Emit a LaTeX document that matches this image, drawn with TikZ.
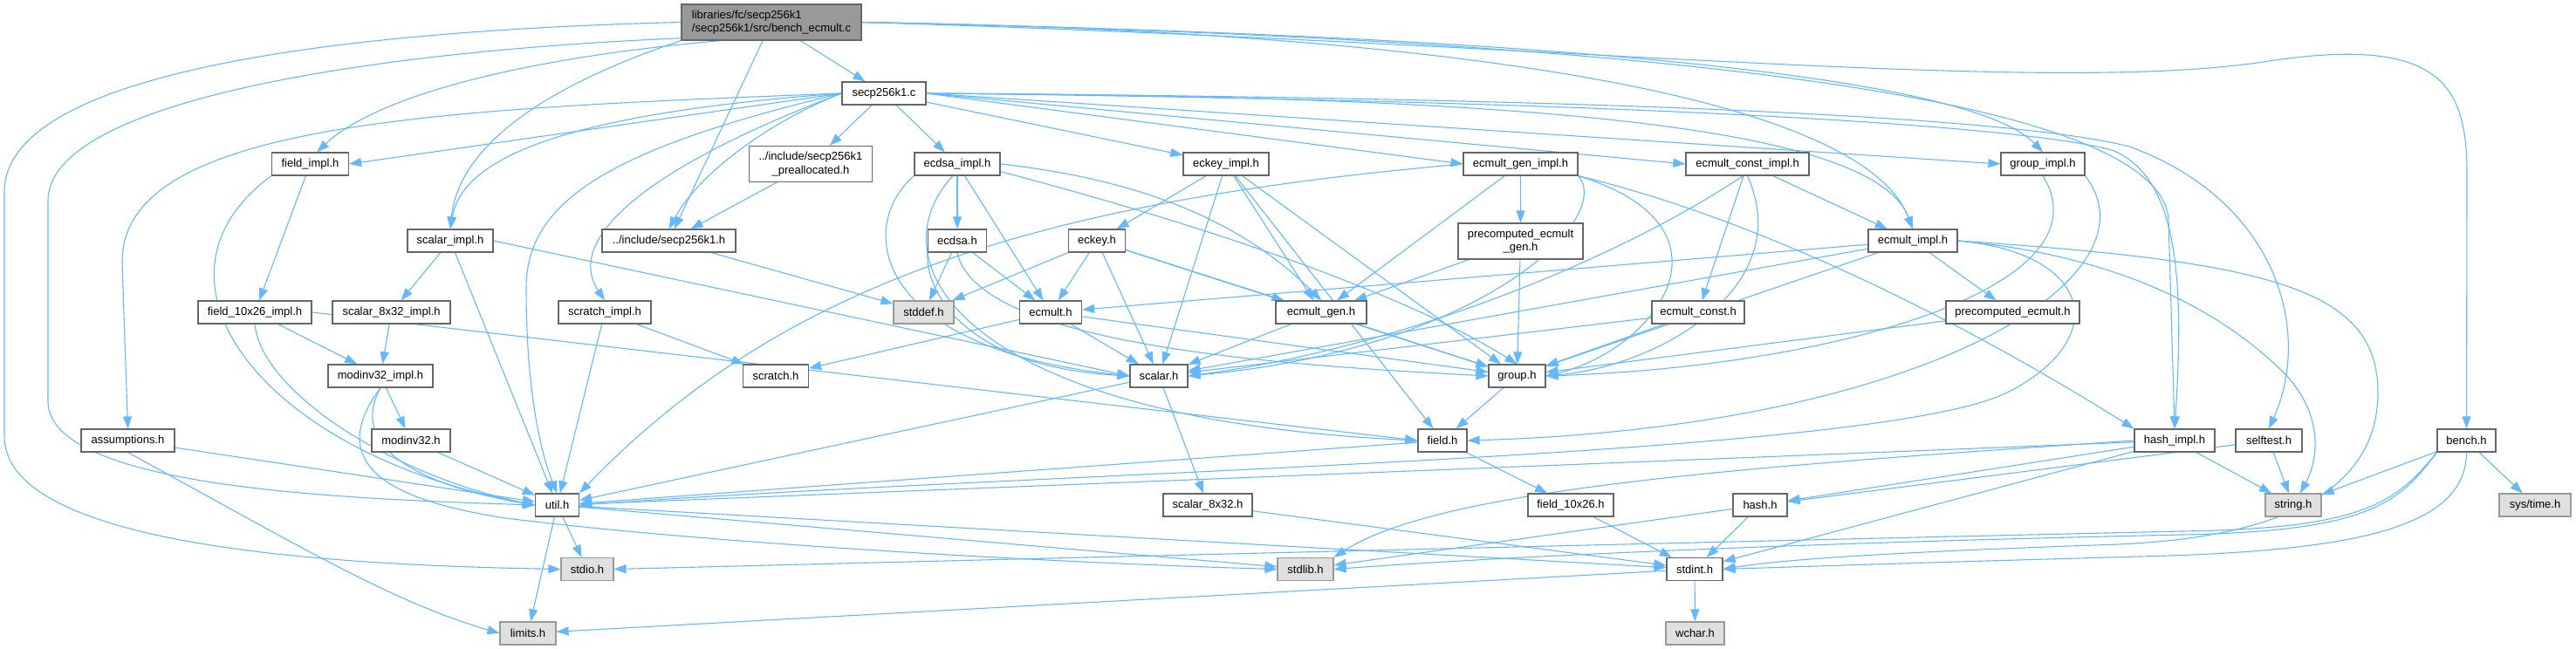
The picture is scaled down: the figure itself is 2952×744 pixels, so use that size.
\documentclass[tikz,border=0pt]{standalone}
\usepackage{fontspec}
\setmainfont{Liberation Sans}
\usetikzlibrary{arrows.meta}
\pgfdeclarelayer{edgelayer}
\pgfsetlayers{edgelayer,main}
\definecolor{edgec}{HTML}{63B8FF}
\definecolor{boxc}{HTML}{666666}
\definecolor{sysc}{HTML}{999999}
\definecolor{sysfill}{HTML}{E0E0E0}
\definecolor{rootfill}{HTML}{999999}
\newcommand{\nfs}{\fontsize{13pt}{15.5pt}\selectfont}
\tikzset{
  box/.style={draw=boxc, fill=white, line width=1.2pt, minimum height=26pt, inner sep=0pt, font=\nfs, text=black},
  sysbox/.style={box, fill=sysfill, draw=sysc},
  twoline/.style={minimum height=41pt, align=center},
  edge/.style={draw=edgec, line width=1.1pt, -{Triangle[length=14pt,width=10pt]}},
}
\begin{document}
\begin{tikzpicture}[x=1pt,y=-1pt]
\useasboundingbox (0,0) rectangle (2952,744);
% ---- nodes ----
\node[box, fill=rootfill, minimum width=206pt, minimum height=41pt, align=left] (root) at (884,25.5) {libraries/fc/secp256k1\\/secp256k1/src/bench\_ecmult.c};
\node[box, minimum width=96pt] (sc) at (1013,107) {secp256k1.c};
\node[box, minimum width=88pt] (fimpl) at (355.5,188) {field\_impl.h};
\node[box, twoline, minimum width=141pt] (prealloc) at (929,188) {../include/secp256k1\\\_preallocated.h};
\node[box, minimum width=98pt] (ecdsaimpl) at (1097,188) {ecdsa\_impl.h};
\node[box, minimum width=98pt] (eckeyimpl) at (1405,188) {eckey\_impl.h};
\node[box, minimum width=131pt] (egimpl) at (1742.5,188) {ecmult\_gen\_impl.h};
\node[box, minimum width=141pt] (ecimpl) at (2002.5,188) {ecmult\_const\_impl.h};
\node[box, minimum width=96pt] (gimpl) at (2341,188) {group\_impl.h};
\node[box, minimum width=98pt] (simpl) at (516,276) {scalar\_impl.h};
\node[box, minimum width=153pt] (incsecp) at (766.5,276) {../include/secp256k1.h};
\node[box, minimum width=67pt] (ecdsa) at (1097,276) {ecdsa.h};
\node[box, minimum width=65pt] (eckey) at (1257,276) {eckey.h};
\node[box, twoline, minimum width=143pt] (pgen) at (1742.5,276.5) {precomputed\_ecmult\\\_gen.h};
\node[box, minimum width=102pt] (emimpl) at (2192,276) {ecmult\_impl.h};
\node[box, minimum width=130pt] (f26impl) at (292,358) {field\_10x26\_impl.h};
\node[box, minimum width=135pt] (s832impl) at (448.5,358) {scalar\_8x32\_impl.h};
\node[box, minimum width=106pt] (scrimpl) at (693,358) {scratch\_impl.h};
\node[sysbox, minimum width=69pt] (stddef) at (1058.5,358) {stddef.h};
\node[box, minimum width=71pt] (ecmult) at (1204,358) {ecmult.h};
\node[box, minimum width=104pt] (egen) at (1514,358) {ecmult\_gen.h};
\node[box, minimum width=106pt] (econst) at (1946,358) {ecmult\_const.h};
\node[box, minimum width=153pt] (pecm) at (2306.5,358) {precomputed\_ecmult.h};
\node[box, minimum width=120pt] (mimpl) at (436,431) {modinv32\_impl.h};
\node[box, minimum width=75pt] (scratch) at (889,431) {scratch.h};
\node[box, minimum width=66pt] (scalar) at (1328,431) {scalar.h};
\node[box, minimum width=65pt] (group) at (1738.5,431) {group.h};
\node[box, minimum width=107pt] (assum) at (146.5,505) {assumptions.h};
\node[box, minimum width=90pt] (modinv) at (471,505) {modinv32.h};
\node[box, minimum width=56pt] (field) at (1653,505) {field.h};
\node[box, minimum width=92pt] (himpl) at (2492,505) {hash\_impl.h};
\node[box, minimum width=76pt] (selftest) at (2600,505) {selftest.h};
\node[box, minimum width=67pt] (bench) at (2826.5,505) {bench.h};
\node[box, minimum width=50pt] (util) at (638.5,579) {util.h};
\node[box, minimum width=102pt] (s832) at (1384,579) {scalar\_8x32.h};
\node[box, minimum width=98pt] (f26) at (1800,579) {field\_10x26.h};
\node[box, minimum width=62pt] (hash) at (2017,579) {hash.h};
\node[sysbox, minimum width=64pt] (string) at (2628,579) {string.h};
\node[sysbox, minimum width=82pt] (systime) at (2905,579) {sys/time.h};
\node[sysbox, minimum width=60pt] (stdio) at (673,652.5) {stdio.h};
\node[sysbox, minimum width=64pt] (stdlib) at (1496,652.5) {stdlib.h};
\node[box, minimum width=64pt] (stdint) at (1942,652.5) {stdint.h};
\node[sysbox, minimum width=64pt] (limits) at (605,726) {limits.h};
\node[sysbox, minimum width=67pt] (wchar) at (1942.5,726) {wchar.h};
\begin{pgfonlayer}{edgelayer}
% ---- edges: root ----
\draw[edge] (root.west) .. controls (400,35) and (5,80) .. (5,220) -- (5,500) .. controls (5,630) and (400,648) .. (stdio.west);
\draw[edge] (root.190) .. controls (400,60) and (55,120) .. (55,230) -- (55,460) .. controls (55,560) and (400,572) .. (util.west);
\draw[edge] (root.200) .. controls (560,70) and (420,120) .. (fimpl.60);
\draw[edge] (root.south west) .. controls (620,100) and (525,170) .. (simpl.north);
\draw[edge] (root) -- (incsecp);
\draw[edge] (root) -- (sc);
\draw[edge] (root.east) .. controls (1600,35) and (2130,100) .. (emimpl.north);
\draw[edge] (root.east) .. controls (1700,40) and (2250,80) .. (gimpl.north);
\draw[edge] (root.east) .. controls (1900,45) and (2470,110) .. (2485,250) -- (himpl.north);
\draw[edge] (root.east) .. controls (1800,50) and (2350,110) .. (2600,70) .. controls (2800,40) and (2827,100) .. (2827,200) -- (bench.north);
% ---- secp256k1.c ----
\draw[edge] (sc.west) .. controls (880,140) and (800,200) .. (incsecp.north);
\draw[edge] (sc) -- (prealloc);
\draw[edge] (sc.west) .. controls (500,125) and (140,140) .. (140,300) -- (assum.north);
\draw[edge] (sc.west) .. controls (700,170) and (603,230) .. (603,330) .. controls (603,450) and (620,520) .. (util.north);
\draw[edge] (sc.west) -- (fimpl.east);
\draw[edge] (sc.west) .. controls (650,130) and (530,180) .. (simpl.north);
\draw[edge] (sc.east) -- (gimpl.west);
\draw[edge] (sc.east) .. controls (1800,110) and (2150,150) .. (emimpl.north);
\draw[edge] (sc.east) -- (ecimpl.west);
\draw[edge] (sc.east) -- (egimpl.west);
\draw[edge] (sc) -- (ecdsaimpl);
\draw[edge] (sc) -- (eckeyimpl);
\draw[edge] (sc.east) .. controls (1800,115) and (2300,140) .. (2420,172) .. controls (2490,200) and (2505,300) .. (himpl.north);
\draw[edge] (sc.west) .. controls (720,200) and (650,280) .. (scrimpl.north);
\draw[edge] (sc.east) .. controls (1800,112) and (2300,132) .. (2440,168) .. controls (2610,230) and (2650,380) .. (selftest.north);
% ---- field / scalar impl ----
\draw[edge] (fimpl) -- (f26impl);
\draw[edge] (fimpl.south west) .. controls (150,320) and (300,520) .. (util.west);
\draw[edge] (f26impl) -- (mimpl);
\draw[edge] (f26impl.south) .. controls (300,450) and (450,545) .. (util.west);
\draw[edge] (f26impl.east) -- (field.west);
\draw[edge] (simpl) -- (s832impl);
\draw[edge] (simpl) -- (util);
\draw[edge] (simpl.east) -- (scalar.west);
\draw[edge] (s832impl) -- (mimpl);
\draw[edge] (mimpl) -- (modinv);
\draw[edge] (mimpl.south) .. controls (395,520) and (500,560) .. (util.west);
\draw[edge] (mimpl.south) .. controls (380,520) and (420,570) .. (580,594) .. controls (800,622) and (1200,645) .. (stdlib.west);
\draw[edge] (modinv) -- (util);
\draw[edge] (util) -- (stdio);
\draw[edge] (util) -- (limits);
\draw[edge] (util) -- (stdlib);
\draw[edge] (util) -- (stdint);
\draw[edge] (stdint) -- (wchar);
\draw[edge] (stdint) -- (limits);
\draw[edge] (assum) -- (util);
\draw[edge] (assum.south) .. controls (350,630) and (450,690) .. (limits.west);
\draw[edge] (scrimpl) -- (util);
\draw[edge] (scrimpl) -- (scratch);
\draw[edge] (prealloc) -- (incsecp);
\draw[edge] (incsecp) -- (stddef);
% ---- ecdsa / eckey ----
\draw[edge] (ecdsaimpl) -- (ecdsa);
\draw[edge] (ecdsaimpl) -- (ecmult);
\draw[edge] (ecdsaimpl.south west) .. controls (980,260) and (1000,400) .. (scalar.west);
\draw[edge] (ecdsaimpl.250) .. controls (1000,300) and (1100,480) .. (field.west);
\draw[edge] (ecdsaimpl.-10) .. controls (1350,250) and (1600,330) .. (group.north);
\draw[edge] (ecdsaimpl.east) .. controls (1300,205) and (1420,250) .. (egen.north);
\draw[edge] (ecdsa) -- (stddef);
\draw[edge] (ecdsa) -- (ecmult);
\draw[edge] (ecdsa.south west) .. controls (1060,330) and (1100,420) .. (scalar.west);
\draw[edge] (ecdsa.south) .. controls (1120,400) and (1500,420) .. (group.west);
\draw[edge] (eckeyimpl) -- (eckey);
\draw[edge] (eckeyimpl) -- (scalar);
\draw[edge] (eckeyimpl) -- (field);
\draw[edge] (eckeyimpl) -- (egen);
\draw[edge] (eckeyimpl) -- (group);
\draw[edge] (eckey) -- (stddef);
\draw[edge] (eckey) -- (ecmult);
\draw[edge] (eckey) -- (scalar);
\draw[edge] (eckey) -- (group);
\draw[edge] (eckey) -- (egen);
\draw[edge] (ecmult) -- (scratch);
\draw[edge] (ecmult) -- (scalar);
\draw[edge] (ecmult) -- (group);
\draw[edge] (egen) -- (scalar);
\draw[edge] (egen) -- (group);
% ---- ecmult gen / const / impl ----
\draw[edge] (egimpl.west) .. controls (1200,230) and (900,320) .. (util.north east);
\draw[edge] (egimpl) -- (egen);
\draw[edge] (egimpl) -- (pgen);
\draw[edge] (egimpl.south east) .. controls (1850,250) and (1700,400) .. (scalar.east);
\draw[edge] (egimpl.south east) .. controls (2000,260) and (1900,400) .. (group.east);
\draw[edge] (egimpl.south east) .. controls (2050,260) and (2300,400) .. (himpl.north west);
\draw[edge] (pgen) -- (egen);
\draw[edge] (pgen) -- (group);
\draw[edge] (ecimpl) -- (econst);
\draw[edge] (ecimpl) -- (emimpl);
\draw[edge] (ecimpl.250) .. controls (1850,300) and (1600,400) .. (scalar.east);
\draw[edge] (ecimpl.south) .. controls (2060,330) and (1900,420) .. (group.east);
\draw[edge] (econst) -- (scalar);
\draw[edge] (econst) -- (group);
\draw[edge] (emimpl) -- (ecmult);
\draw[edge] (emimpl) -- (pecm);
\draw[edge] (emimpl) -- (scalar);
\draw[edge] (emimpl) -- (group);
\draw[edge] (emimpl.east) .. controls (2400,290) and (2420,390) .. (2300,450) .. controls (2150,525) and (1200,540) .. (util.east);
\draw[edge] (emimpl.east) .. controls (2450,295) and (2560,370) .. (2620,430) .. controls (2665,480) and (2655,530) .. (string.60);
\draw[edge] (emimpl.east) .. controls (2600,300) and (2725,330) .. (2725,450) .. controls (2725,610) and (2500,622) .. (2400,625) .. controls (2200,632) and (2050,640) .. (stdint.east);
\draw[edge] (pecm) -- (group);
\draw[edge] (gimpl.south east) .. controls (2480,320) and (2200,490) .. (field.east);
\draw[edge] (gimpl.south) .. controls (2420,330) and (2100,420) .. (group.east);
\draw[edge] (group) -- (field);
\draw[edge] (field) -- (util);
\draw[edge] (field) -- (f26);
\draw[edge] (f26) -- (stdint);
\draw[edge] (scalar) -- (util);
\draw[edge] (scalar) -- (s832);
\draw[edge] (s832) -- (stdint);
% ---- hash / selftest / bench ----
\draw[edge] (himpl) -- (hash);
\draw[edge] (himpl) -- (util);
\draw[edge] (himpl.west) .. controls (2000,535) and (1650,560) .. (stdlib.north east);
\draw[edge] (himpl) -- (stdint);
\draw[edge] (himpl) -- (string);
\draw[edge] (selftest) -- (hash);
\draw[edge] (selftest) -- (string);
\draw[edge] (hash) -- (stdlib);
\draw[edge] (hash) -- (stdint);
\draw[edge] (bench) -- (string);
\draw[edge] (bench) -- (systime);
\draw[edge] (bench.south) .. controls (2826,605) and (2700,632) .. (2452,638) .. controls (2200,645) and (2050,650) .. (stdint.east);
\draw[edge] (bench.south west) .. controls (2745,578) and (2705,606) .. (2500,609) .. controls (1800,625) and (1000,645) .. (stdio.east);
\draw[edge] (bench.south west) .. controls (2748,580) and (2708,609) .. (2500,613) .. controls (2000,624) and (1700,640) .. (stdlib.east);
\end{pgfonlayer}
\end{tikzpicture}
\end{document}
